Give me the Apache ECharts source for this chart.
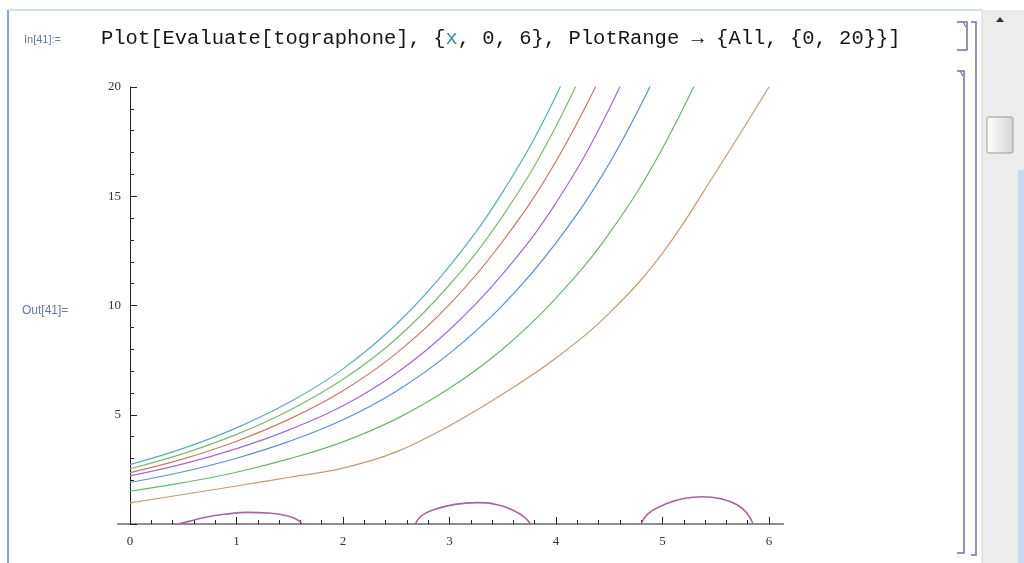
<!DOCTYPE html>
<html>
<head>
<meta charset="utf-8">
<script src="https://cdn.jsdelivr.net/npm/echarts@6/dist/echarts.min.js"></script>
<style>
  html, body { margin: 0; padding: 0; background: #fff; }
  #main { width: 1024px; height: 563px; }
</style>
</head>
<body>
<div id="main"></div>
<script>
// sample positions along x, shared by the rising curves
var xSteps = [0, 0.5, 1, 1.5, 2, 2.5, 3, 3.5, 4, 4.5, 5, 5.5, 6];

// rising curves, top to bottom (values past 20 are clipped by the plot range)
var curveCyan   = [2.72, 3.46, 4.40, 5.58, 7.10, 9.14, 11.8, 15.2, 19.6, 25.3];
var curveGreen1 = [2.53, 3.22, 4.10, 5.21, 6.62, 8.48, 10.95, 14.1, 18.2, 23.5];
var curveRed    = [2.35, 2.98, 3.79, 4.81, 6.10, 7.81, 10.05, 12.94, 16.6, 21.3];
var curvePurple = [2.20, 2.75, 3.45, 4.32, 5.41, 6.90, 8.89, 11.45, 14.7, 19.0, 24.5];
var curveBlue   = [1.90, 2.39, 3.01, 3.79, 4.77, 6.08, 7.81, 10.02, 12.87, 16.5, 21.2];
var curveGreen2 = [1.50, 1.89, 2.37, 2.99, 3.76, 4.81, 6.21, 8.01, 10.34, 13.3, 17.2, 22.2];
var curveBrown  = [0.97, 1.35, 1.74, 2.14, 2.56, 3.30, 4.50, 5.95, 7.60, 9.65, 12.4, 16.1, 20.0];

// small humps sitting on the x axis
var arc1 = [[0.45, 0], [0.55, 0.12], [0.7, 0.3], [0.9, 0.45], [1.1, 0.53], [1.3, 0.5], [1.45, 0.4], [1.55, 0.25], [1.62, 0]];
var arc2 = [[2.68, 0], [2.73, 0.35], [2.85, 0.65], [3.05, 0.9], [3.26, 0.98], [3.45, 0.88], [3.6, 0.62], [3.7, 0.33], [3.76, 0]];
var arc3 = [[4.8, 0], [4.86, 0.45], [5.0, 0.85], [5.2, 1.17], [5.38, 1.25], [5.55, 1.15], [5.7, 0.88], [5.8, 0.45], [5.85, 0]];

var curves = [
  { vals: curveCyan,   color: '#5aaeb5' },
  { vals: curveGreen1, color: '#7dba6e' },
  { vals: curveRed,    color: '#c97a6a' },
  { vals: curvePurple, color: '#a56ad0' },
  { vals: curveBlue,   color: '#5c8ed4' },
  { vals: curveGreen2, color: '#6cb56c' },
  { vals: curveBrown,  color: '#c49a72' }
];
var arcColor = '#a8649e';

function pairs(vals) {
  return vals.map(function (v, i) { return [xSteps[i], v]; });
}

var series = [];
curves.forEach(function (c) {
  series.push({
    type: 'line', data: pairs(c.vals), smooth: 0.4, showSymbol: false, clip: true,
    lineStyle: { color: c.color, width: 1.2 }, silent: true
  });
});
[arc1, arc2, arc3].forEach(function (a) {
  series.push({
    type: 'line', data: a, smooth: 0.5, showSymbol: false, clip: false,
    lineStyle: { color: arcColor, width: 1.6 }, silent: true
  });
});

var axisColor = '#222';
var labelStyle = { fontFamily: 'Liberation Serif', fontSize: 13, color: '#333' };

var myChart = echarts.init(document.getElementById('main'));
var option = {
  animation: false,
  backgroundColor: '#fff',
  grid: { left: 130, right: 255, top: 87, bottom: 39 },
  xAxis: {
    type: 'value', min: 0, max: 6, interval: 1,
    axisLine: { show: false },
    axisTick: { show: true, inside: true, length: 7, lineStyle: { color: axisColor } },
    minorTick: { show: true, splitNumber: 5, length: 4, lineStyle: { color: axisColor } },
    splitLine: { show: false },
    axisLabel: Object.assign({ margin: 11 }, labelStyle)
  },
  yAxis: {
    type: 'value', min: 0, max: 20, interval: 5,
    axisLine: { show: true, lineStyle: { color: axisColor, width: 1 } },
    axisTick: { show: true, inside: true, length: 7, lineStyle: { color: axisColor } },
    minorTick: { show: true, splitNumber: 5, length: 4, lineStyle: { color: axisColor } },
    splitLine: { show: false },
    axisLabel: Object.assign({
      margin: 9,
      formatter: function (v) { return v === 0 ? '' : v; }
    }, labelStyle)
  },
  series: series
};
myChart.setOption(option);

// notebook frame, cell brackets, scrollbar, cell labels
var p0 = myChart.convertToPixel({ gridIndex: 0 }, [-0.12, 0]);
var p1 = myChart.convertToPixel({ gridIndex: 0 }, [6.14, 0]);
var bracket = '#7070ac';

myChart.setOption({
  graphic: [
    { type: 'line', shape: { x1: p0[0], y1: p0[1], x2: p1[0], y2: p1[1] }, style: { stroke: axisColor, lineWidth: 1.2 } },
    { type: 'line', shape: { x1: 8, y1: 10, x2: 8, y2: 563 }, style: { stroke: '#7fa8dc', lineWidth: 2 } },
    { type: 'line', shape: { x1: 8, y1: 10, x2: 982, y2: 10 }, style: { stroke: '#9dbde6', lineWidth: 1 } },
    // scrollbar
    { type: 'rect', shape: { x: 982, y: 10, width: 42, height: 553 }, style: { fill: '#ececec' } },
    { type: 'line', shape: { x1: 982, y1: 10, x2: 982, y2: 563 }, style: { stroke: '#d6d6d6', lineWidth: 1 } },
    { type: 'rect', shape: { x: 1018, y: 170, width: 6, height: 393 }, style: { fill: '#c9d9ef' } },
    { type: 'polygon', shape: { points: [[996, 22], [1004, 22], [1000, 17]] }, style: { fill: '#333' } },
    { type: 'rect', shape: { x: 987, y: 117, width: 26, height: 36, r: 2 },
      style: { fill: new echarts.graphic.LinearGradient(0, 0, 1, 0, [{ offset: 0, color: '#ffffff' }, { offset: 1, color: '#d4d4d4' }]), stroke: '#9a9a9a', lineWidth: 1 } },
    // cell brackets
    { type: 'polyline', shape: { points: [[957, 22], [967, 22], [967, 50], [957, 50]] }, style: { stroke: bracket, lineWidth: 1.5, fill: null } },
    { type: 'line', shape: { x1: 963, y1: 22, x2: 966, y2: 27 }, style: { stroke: bracket, lineWidth: 1.2 } },
    { type: 'polyline', shape: { points: [[957, 71], [964, 71], [964, 553], [957, 553]] }, style: { stroke: bracket, lineWidth: 1.5, fill: null } },
    { type: 'line', shape: { x1: 960, y1: 71, x2: 963, y2: 76 }, style: { stroke: bracket, lineWidth: 1.2 } },
    { type: 'polyline', shape: { points: [[971, 22], [976, 22], [976, 555], [971, 555]] }, style: { stroke: bracket, lineWidth: 1.5, fill: null } },
    // input / output labels
    { type: 'text', x: 24, y: 40, style: { text: 'In[41]:=', font: '11px "Liberation Sans"', fill: '#6878a8', verticalAlign: 'middle' } },
    { type: 'text', x: 101, y: 39, style: {
        text: 'Plot[Evaluate[tographone], {{v|x}, 0, 6}, PlotRange \u2192 {All, {0, 20}}]',
        font: '20.5px "Liberation Mono"', fill: '#151515', verticalAlign: 'middle',
        rich: { v: { fontFamily: 'Liberation Mono', fontSize: 20.5, fill: '#3d8fa3', color: '#3d8fa3' } }
      } },
    { type: 'text', x: 22, y: 311, style: { text: 'Out[41]=', font: '12px "Liberation Sans"', fill: '#6878a8', verticalAlign: 'middle' } }
  ]
});
</script>
</body>
</html>
